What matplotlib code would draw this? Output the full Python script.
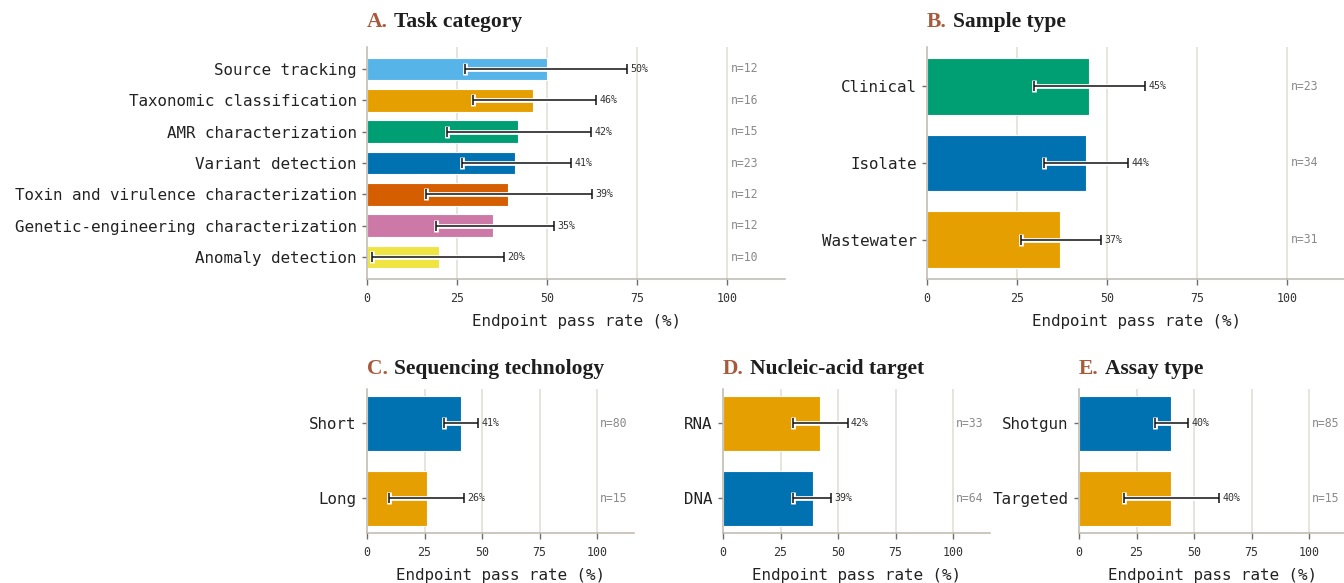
import matplotlib
matplotlib.use('Agg')
import matplotlib.pyplot as plt

# --- endpoint pass rates by stratum (rate, 95% CI, n) ---
task_labels = ['Source tracking', 'Taxonomic classification', 'AMR characterization',
               'Variant detection', 'Toxin and virulence characterization',
               'Genetic-engineering characterization', 'Anomaly detection']
task_rate = [50, 46, 42, 41, 39, 35, 20]
task_lo = [27.2, 29.3, 22.3, 26.3, 16.5, 19.1, 1.4]
task_hi = [72.2, 63.6, 62.3, 56.5, 62.4, 51.9, 38.0]
task_n = [12, 16, 15, 23, 12, 12, 10]

sample_labels = ['Clinical', 'Isolate', 'Wastewater']
sample_rate = [45, 44, 37]
sample_lo = [29.7, 32.6, 26.1]
sample_hi = [60.4, 55.9, 48.2]
sample_n = [23, 34, 31]

seq_labels = ['Short', 'Long']
seq_rate = [41, 26]
seq_lo = [33.6, 9.5]
seq_hi = [48.2, 42.2]
seq_n = [80, 15]

na_labels = ['RNA', 'DNA']
na_rate = [42, 39]
na_lo = [30.3, 30.3]
na_hi = [54.1, 46.9]
na_n = [33, 64]

assay_labels = ['Shotgun', 'Targeted']
assay_rate = [40, 40]
assay_lo = [33.0, 19.4]
assay_hi = [47.3, 60.7]
assay_n = [85, 15]

# Okabe-Ito
SKY, ORANGE, GREEN, BLUE = '#56B4E9', '#E69F00', '#009E73', '#0072B2'
VERMIL, PURPLE, YELLOW = '#D55E00', '#CC79A7', '#F0E442'

MONO = 'DejaVu Sans Mono'
SERIF = 'Liberation Serif'
SPINE = '#bdb6ac'
TICK = '#6e6e6e'
GRID = '#e0dbd3'
ACCENT = '#a85a3c'

W, H = 1344, 583
fig = plt.figure(figsize=(W / 100, H / 100), dpi=100)
fig.patch.set_facecolor('white')


def px_axes(x0, y0, x1, y1):
    return fig.add_axes([x0 / W, 1 - y1 / H, (x1 - x0) / W, (y1 - y0) / H])


def panel(ax, letter, title, labels, rate, lo, hi, n, colors, bar_h=0.74, pad=0.5, title_gap=20):
    k = len(labels)
    ys = list(range(k))
    ax.set_xlim(0, 116)
    ax.set_ylim(k - 1 + pad, -pad)
    ax.set_axisbelow(True)
    for g in (25, 50, 75, 100):
        ax.axvline(g, color=GRID, lw=1.1, zorder=0)
    ax.barh(ys, rate, height=bar_h, color=colors, edgecolor='white', linewidth=0.8, zorder=2)
    for y, r, l, h_ in zip(ys, rate, lo, hi):
        xerr = [[r - l], [h_ - r]]
        ax.errorbar(r, y, xerr=xerr, fmt='none', ecolor='white', elinewidth=3.4,
                    capsize=4.2, capthick=3.4, zorder=3)
        ax.errorbar(r, y, xerr=xerr, fmt='none', ecolor='#111111', elinewidth=1.1,
                    capsize=3.4, capthick=1.1, zorder=4)
        ax.annotate(f'{r:.0f}%', (h_, y), xytext=(2.5, 0), textcoords='offset points',
                    ha='left', va='center', fontsize=7.2, family=MONO, color='#333333', zorder=5)
    for y, nn in zip(ys, n):
        ax.text(101, y, f'n={nn}', ha='left', va='center', fontsize=8.3,
                family=MONO, color='#8a8a8a')
    ax.set_yticks(ys)
    ax.set_yticklabels(labels, family=MONO, fontsize=11.4, color='#222222')
    ax.set_xticks([0, 25, 50, 75, 100])
    ax.set_xticklabels(['0', '25', '50', '75', '100'], family=MONO, fontsize=8.4, color='#333333')
    ax.set_xlabel('Endpoint pass rate (%)', family=MONO, fontsize=11.4, color='#222222', labelpad=7)
    for s in ('top', 'right'):
        ax.spines[s].set_visible(False)
    for s in ('left', 'bottom'):
        ax.spines[s].set_color(SPINE)
        ax.spines[s].set_linewidth(1.1)
    ax.tick_params(axis='y', length=3.5, width=1, color=TICK, pad=4)
    ax.tick_params(axis='x', length=4, width=1, color=TICK, pad=5)

    # two-tone panel title above the plot area
    bb = ax.get_position()
    ty = bb.y1 + title_gap / H
    t1 = fig.text(bb.x0, ty, f'{letter}.', fontsize=15.5, family=SERIF, weight='bold',
                  color=ACCENT, ha='left', va='baseline')
    r = fig.canvas.get_renderer()
    ext = t1.get_window_extent(renderer=r)
    fig.text((ext.x1 + 6) / W, ty, title, fontsize=15.5, family=SERIF, weight='bold',
             color='#1e1e1e', ha='left', va='baseline')


axA = px_axes(367, 47, 785, 279)
panel(axA, 'A', 'Task category', task_labels, task_rate, task_lo, task_hi, task_n,
      [SKY, ORANGE, GREEN, BLUE, VERMIL, PURPLE, YELLOW], bar_h=0.73, pad=0.7)

axB = px_axes(927, 47, 1345, 279)
panel(axB, 'B', 'Sample type', sample_labels, sample_rate, sample_lo, sample_hi, sample_n,
      [GREEN, BLUE, ORANGE], bar_h=0.74, pad=0.51)

axC = px_axes(367, 389, 634, 533)
panel(axC, 'C', 'Sequencing technology', seq_labels, seq_rate, seq_lo, seq_hi, seq_n,
      [BLUE, ORANGE], bar_h=0.74, pad=0.46, title_gap=15)

axD = px_axes(723, 389, 990, 533)
panel(axD, 'D', 'Nucleic-acid target', na_labels, na_rate, na_lo, na_hi, na_n,
      [ORANGE, BLUE], bar_h=0.74, pad=0.46, title_gap=15)

axE = px_axes(1079, 389, 1346, 533)
panel(axE, 'E', 'Assay type', assay_labels, assay_rate, assay_lo, assay_hi, assay_n,
      [BLUE, ORANGE], bar_h=0.74, pad=0.46, title_gap=15)

fig.savefig('out.png', dpi=100, facecolor='white')
